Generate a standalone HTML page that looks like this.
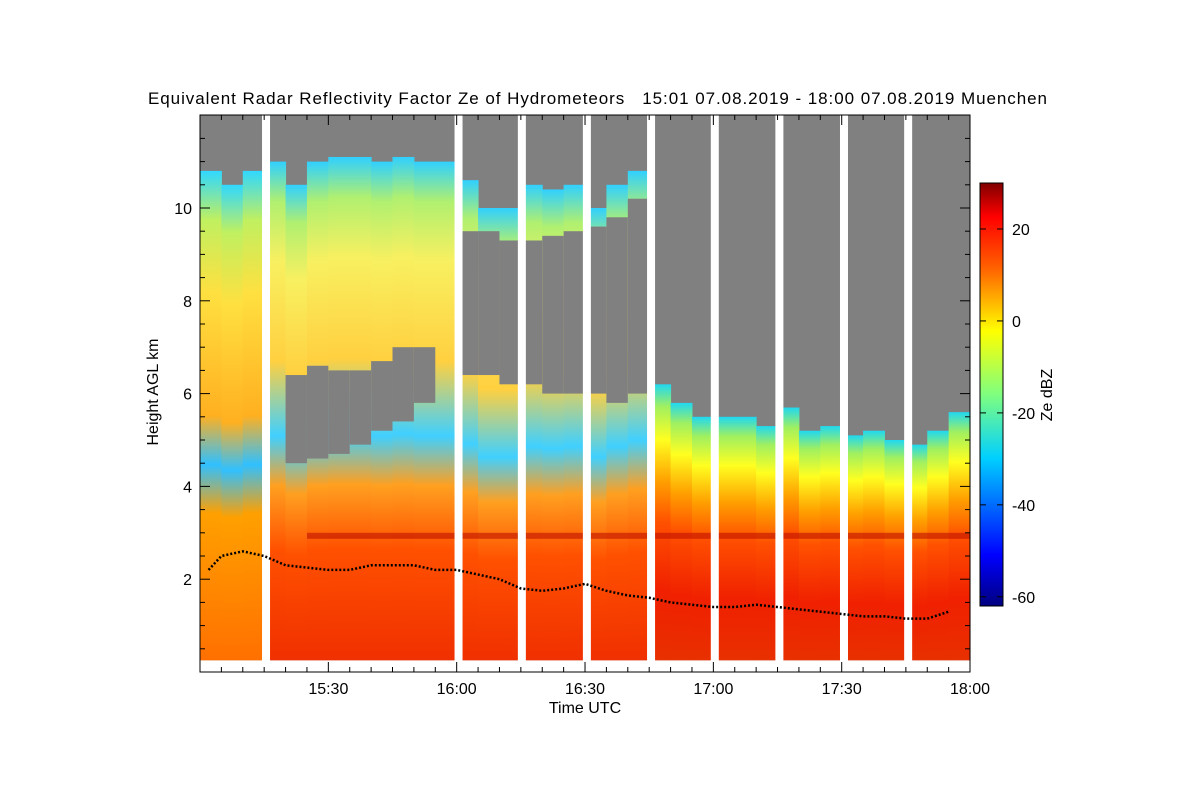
<!DOCTYPE html>
<html><head><meta charset="utf-8"><style>
body{margin:0;background:#fff;width:1200px;height:800px;overflow:hidden;font-family:"Liberation Sans",sans-serif}
svg text{font-family:"Liberation Sans",sans-serif;fill:#000}
</style></head><body>
<svg id="chart" width="1200" height="800" xmlns="http://www.w3.org/2000/svg">
<defs>
<linearGradient id="cbar" x1="0" y1="1" x2="0" y2="0">
<stop offset="0" stop-color="#00007f"/><stop offset="0.12" stop-color="#0000ff"/><stop offset="0.35" stop-color="#00d0ff"/><stop offset="0.5" stop-color="#7fff7f"/><stop offset="0.65" stop-color="#ffff00"/><stop offset="0.8" stop-color="#ff6000"/><stop offset="0.92" stop-color="#ff0000"/><stop offset="1" stop-color="#800000"/>
</linearGradient>
</defs>
<text x="148" y="104" font-size="17" textLength="899" lengthAdjust="spacing" style="white-space:pre" xml:space="preserve">Equivalent Radar Reflectivity Factor Ze of Hydrometeors   15:01 07.08.2019 - 18:00 07.08.2019 Muenchen</text>
<g id="plot"></g>
<g id="axes"></g>
<text x="585" y="713" font-size="16" text-anchor="middle">Time UTC</text>
<text transform="translate(158,392) rotate(-90)" font-size="16" text-anchor="middle">Height AGL km</text>
<rect x="980" y="183" width="23" height="423" fill="url(#cbar)" stroke="#000"/>
<text transform="translate(1052,395) rotate(-90)" font-size="16" text-anchor="middle">Ze dBZ</text>
<g id="cbticks"></g>
</svg>
<script>
const binStarts=[0,5,10,15,20,25,30,35,40,45,50,55,60,65,70,75,80,85,90,95,100,105,110,115,120,125,130,135,140,145,150,155,160,165,170,175];
const cloudTops=[10.8,10.5,10.8,11,10.5,11,11.1,11.1,11,11.1,11,11,10.6,10,10,10.5,10.4,10.5,10,10.5,10.8,6.2,5.8,5.5,5.5,5.5,5.3,5.7,5.2,5.3,5.1,5.2,5.0,4.9,5.2,5.6];
const holeLows=[0,0,0,0,4.5,4.6,4.7,4.9,5.2,5.4,5.8,0,6.4,6.4,6.2,6.2,6.0,6.0,6.0,5.8,6.0,0,0,0,0,0,0,0,0,0,0,0,0,0,0,0];
const holeHighs=[0,0,0,0,6.4,6.6,6.5,6.5,6.7,7.0,7.0,0,9.5,9.5,9.3,9.3,9.4,9.5,9.6,9.8,10.2,0,0,0,0,0,0,0,0,0,0,0,0,0,0,0];
const gapTimes=[14.5,59.5,74.3,89.5,104.5,119.4,134.5,149.6,164.6];
const mlTimes=[2,5,10,15,20,25,30,35,40,45,50,55,60,65,70,75,80,85,90,95,100,105,110,115,120,125,130,135,140,145,150,155,160,165,170,175];
const mlHeights=[2.2,2.5,2.6,2.5,2.3,2.25,2.2,2.2,2.3,2.3,2.3,2.2,2.2,2.1,2.0,1.8,1.75,1.8,1.9,1.75,1.65,1.6,1.5,1.45,1.4,1.4,1.45,1.4,1.35,1.3,1.25,1.2,1.2,1.15,1.15,1.3];
const xTicks=[30,60,90,120,150,180];
const xTickLabels=["15:30","16:00","16:30","17:00","17:30","18:00"];
const yTicks=[2,4,6,8,10];
const cbTicks=[20,0,-20,-40,-60];

const X=m=>200+m*4.278, Y=h=>672-h*46.4;
const cbY=v=>606-(v+62)/92*423;
const NS="http://www.w3.org/2000/svg";
function mk(p,t,a){const e=document.createElementNS(NS,t);for(const k in a)e.setAttribute(k,a[k]);p.appendChild(e);return e;}
const plot=document.getElementById('plot'),axes=document.getElementById('axes');
const defs=document.querySelector('defs');
mk(plot,'rect',{x:200,y:115,width:770,height:557,fill:'#808080'});
binStarts.forEach((t,i)=>{
  const top=cloudTops[i], late=t>=105;
  const g=mk(defs,'linearGradient',{id:'g'+i,x1:0,y1:0,x2:0,y2:1});
  const stops=late?[[0,'#20d8f0'],[0.08,'#a0f060'],[0.2,'#ffff20'],[0.35,'#ffa000'],[0.5,'#ff5000'],[0.75,'#f02000'],[1,'#e83000']]
   :(t<15?[[0,'#30d8ff'],[0.1,'#c0f060'],[0.25,'#ffe040'],[0.5,'#ffb020'],[0.6,'#30c0ff'],[0.7,'#ffa000'],[1,'#ff7000']]
   :[[0,'#30d0ff'],[0.08,'#b0f070'],[0.2,'#f8f060'],[0.4,'#ffd040'],[0.55,'#40d0ff'],[0.65,'#ffa020'],[0.78,'#ff5000'],[1,'#f03000']]);
  stops.forEach(s=>mk(g,'stop',{offset:s[0],'stop-color':s[1]}));
  const c=mk(plot,'rect',{x:X(t),y:Y(top),width:X(t+5)-X(t)+0.5,height:Y(0.25)-Y(top),fill:'url(#g'+i+')'});
  
  
  if(holeHighs[i]>0){
    const h=mk(plot,'rect',{x:X(t),y:Y(holeHighs[i]),width:X(t+5)-X(t)+0.5,height:Y(holeLows[i])-Y(holeHighs[i]),fill:'#808080'});
    
    
  }
});
mk(plot,'rect',{x:X(25),y:Y(3.0),width:X(180)-X(25),height:6,fill:'#c01000',opacity:0.6});
gapTimes.forEach(t=>{
  const r=mk(plot,'rect',{x:X(t),y:115,width:8,height:557,fill:'#fff'});
  
  
});
mk(plot,'rect',{x:200,y:Y(0.25),width:770,height:672-Y(0.25),fill:'#fff'});
const ml=mk(plot,'polyline',{points:mlTimes.map((t,i)=>X(t)+','+Y(mlHeights[i])).join(' '),fill:'none',stroke:'#000','stroke-width':2.5,'stroke-dasharray':'2 2'});


mk(axes,'rect',{x:200,y:115,width:770,height:557,fill:'none',stroke:'#000'});
for(let m=5;m<180;m+=5){mk(axes,'line',{x1:X(m),x2:X(m),y1:672,y2:m%30==0?662:667,stroke:'#000'});mk(axes,'line',{x1:X(m),x2:X(m),y1:115,y2:m%30==0?125:120,stroke:'#000'});}
xTicks.forEach((m,i)=>{const t=mk(axes,'text',{x:X(m),y:694,'font-size':16,'text-anchor':'middle'});t.textContent=xTickLabels[i];
});
for(let h=0.5;h<12;h+=0.5){const maj=h%2==0;mk(axes,'line',{x1:200,x2:maj?210:205,y1:Y(h),y2:Y(h),stroke:'#000'});mk(axes,'line',{x1:970,x2:maj?960:965,y1:Y(h),y2:Y(h),stroke:'#000'});}
yTicks.forEach(h=>{const t=mk(axes,'text',{x:192,y:Y(h)+6,'font-size':16,'text-anchor':'end'});t.textContent=h;
});
const cb=document.getElementById('cbticks');
cbTicks.forEach(v=>{mk(cb,'line',{x1:1003,x2:997,y1:cbY(v),y2:cbY(v),stroke:'#000'});mk(cb,'line',{x1:980,x2:986,y1:cbY(v),y2:cbY(v),stroke:'#000'});
const t=mk(cb,'text',{x:1012,y:cbY(v)+6,'font-size':16});t.textContent=v;
});
</script>
</body></html>
